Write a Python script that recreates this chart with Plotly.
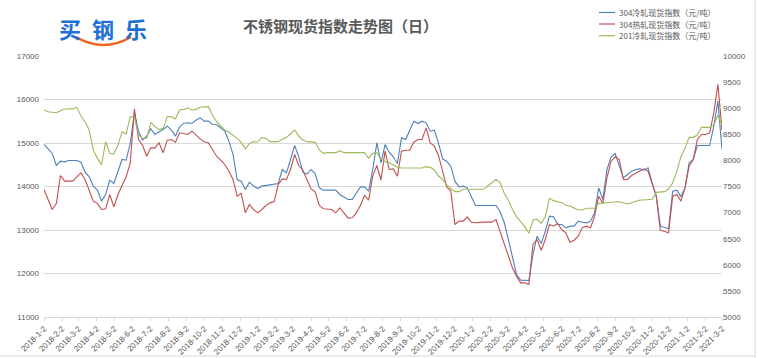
import plotly.graph_objects as go
import pandas as pd

# weekly sample dates (category grid)
dates = pd.date_range("2018-01-02", periods=166, freq="7D")

tick_text = [
    "2018-1-2", "2018-2-2", "2018-3-2", "2018-4-2", "2018-5-2", "2018-6-2", "2018-7-2", "2018-8-2",
    "2018-9-2", "2018-10-2", "2018-11-2", "2018-12-2",
    "2019-1-2", "2019-2-2", "2019-3-2", "2019-4-2", "2019-5-2", "2019-6-2", "2019-7-2", "2019-8-2",
    "2019-9-2", "2019-10-2", "2019-11-2", "2019-12-2",
    "2020-1-2", "2020-2-2", "2020-3-2", "2020-4-2", "2020-5-2", "2020-6-2", "2020-7-2", "2020-8-2",
    "2020-9-2", "2020-10-2", "2020-11-2", "2020-12-2",
    "2021-1-2", "2021-2-2", "2021-3-2",
]
tick_vals = pd.to_datetime(tick_text, format="%Y-%m-%d")

cold_304 = [
    14966, 14851, 14759, 14483, 14582, 14567, 14598, 14598, 14598, 14559, 14329, 14222, 14008, 13916, 13663, 13816,
    14146, 14069, 14352, 14621, 14605, 15004, 15693, 15272, 15065, 15157, 15326, 15195, 15257, 15310, 15387, 15295, 15157,
    15372, 15456, 15464, 15448, 15525, 15579, 15502, 15502, 15425, 15418, 15349, 15272, 15042, 14736, 14161, 14123,
    13931, 14100, 14008, 13954, 14008, 14023, 14054, 14069, 14069, 14391, 14314, 14621, 14943, 14682, 14329, 14284, 14391,
    14299, 13969, 13916, 13916, 13916, 13916, 13816, 13762, 13701, 13701, 13839, 13992, 13992, 13893, 14391, 15004,
    14544, 14965, 14789, 14682, 14529, 15119, 15080, 15295, 15502, 15448, 15502, 15464, 15272, 15295, 15004, 14636, 14582,
    14467, 14123, 13992, 14008, 13969, 13762, 13563, 13563, 13563, 13563, 13563, 13563, 13418, 13172, 12782, 12360,
    11977, 11847, 11839, 11839, 12437, 12858, 12690, 12973, 13318, 13303, 13126, 13126, 13050, 13088, 13088, 13203,
    13180, 13165, 13203, 13395, 13969, 13701, 14391, 14674, 14759, 14467, 14199, 14276, 14352, 14391, 14406, 14376,
    14429, 14084, 13778, 13088, 13050, 13027, 13893, 13916, 13762, 13969, 14544, 14621, 14942, 14942, 14942, 14942,
    15387, 15962, 14851,
]

hot_304 = [
    13931, 13701, 13471, 13609, 14253, 14123, 14123, 14123, 14222, 14314, 14161, 13931, 13663, 13609, 13471, 13487,
    13816, 13533, 13816, 14023, 14222, 14544, 15785, 15080, 14942, 14697, 14889, 14889, 15004, 14774, 15065, 15080, 15019,
    15234, 15218, 15195, 15272, 15172, 15096, 15027, 15004, 14851, 14697, 14605, 14506, 14352, 14161, 13778, 13839,
    13395, 13586, 13471, 13395, 13471, 13563, 13624, 13655, 14046, 14176, 14161, 14391, 14736, 14483, 14375, 14161, 13946,
    13870, 13563, 13487, 13471, 13471, 13395, 13510, 13395, 13272, 13280, 13395, 13563, 13793, 13686, 14238, 14483,
    14146, 14812, 14391, 14406, 14238, 14812, 14835, 14835, 15019, 15080, 15080, 15349, 15004, 14927, 14713, 14352, 13992,
    13900, 13126, 13203, 13203, 13303, 13180, 13165, 13180, 13180, 13180, 13180, 13241, 12973, 12705, 12437, 12130,
    11939, 11785, 11785, 11747, 12667, 12782, 12536, 12782, 13126, 13088, 13150, 13011, 12935, 12720, 12766, 12858,
    13050, 13088, 13050, 13318, 13778, 13609, 14199, 14582, 14682, 14621, 14161, 14161, 14253, 14299, 14345, 14406,
    14352, 14069, 13778, 12996, 12973, 12935, 13778, 13816, 13663, 13969, 14467, 14621, 15080, 15195, 15195, 15234,
    15693, 16350, 15300,
]

cold_201 = [
    8965, 8933, 8921, 8914, 8953, 8985, 8985, 8991, 9017, 8850, 8742, 8582, 8199, 8039, 7912, 8359,
    8135, 8122, 8295, 8550, 8506, 8838, 8825, 8486, 8423, 8423, 8723, 8646, 8595, 8614, 8838, 8838, 8793,
    8965, 8978, 9004, 8965, 8978, 9017, 9029, 9029, 8870, 8742, 8659, 8582, 8538, 8486, 8423, 8340,
    8218, 8327, 8359, 8352, 8435, 8423, 8359, 8359, 8359, 8404, 8442, 8506, 8582, 8467, 8391, 8359, 8346,
    8346, 8199, 8135, 8148, 8148, 8148, 8186, 8148, 8148, 8148, 8148, 8148, 8148, 8039, 8135, 8148,
    8027, 7976, 7957, 7912, 7867, 7854, 7854, 7854, 7854, 7854, 7854, 7880, 7867, 7816, 7701, 7637, 7529,
    7465, 7401, 7401, 7446, 7446, 7446, 7446, 7446, 7446, 7509, 7573, 7637, 7573, 7369, 7241, 7062,
    6922, 6826, 6730, 6603, 6858, 6871, 6794, 6922, 7273, 7229, 7209, 7190, 7139, 7126, 7088, 7050,
    7050, 7082, 7082, 7082, 7177, 7177, 7190, 7197, 7209, 7209, 7190, 7165, 7190, 7209, 7241, 7241,
    7241, 7254, 7388, 7394, 7401, 7452, 7573, 7784, 8071, 8231, 8442, 8442, 8486, 8633, 8633, 8633,
    8678, 8870, 8678,
]

names = ["304冷轧现货指数（元/吨）", "304热轧现货指数（元/吨）", "201冷轧现货指数（元/吨）"]
colors = ["#4F81BD", "#C0504D", "#9BBB59"]

CJK = "Noto Sans CJK SC"
LAT = "Liberation Sans, Noto Sans CJK SC"
GREY = "#595959"

fig = go.Figure()
fig.add_trace(go.Scatter(x=dates, y=cold_304, mode="lines", name=names[0],
                         line=dict(color=colors[0], width=1.1)))
fig.add_trace(go.Scatter(x=dates, y=hot_304, mode="lines", name=names[1],
                         line=dict(color=colors[1], width=1.1)))
fig.add_trace(go.Scatter(x=dates, y=cold_201, mode="lines", name=names[2], yaxis="y2",
                         line=dict(color=colors[2], width=1.1)))

fig.update_layout(
    width=758, height=358,
    margin=dict(l=44, r=36, t=56, b=41),
    paper_bgcolor="white", plot_bgcolor="white",
    showlegend=False,
    xaxis=dict(
        type="date", range=["2018-01-02", "2021-03-02"], automargin=False,
        tickmode="array", tickvals=tick_vals, ticktext=tick_text,
        tickangle=-45, tickfont=dict(size=8, color=GREY, family=LAT),
        showgrid=False, zeroline=False,
        showline=True, linecolor="#D9D9D9", linewidth=1,
        ticks="outside", ticklen=3, tickcolor="#D9D9D9",
    ),
    yaxis=dict(
        range=[11000, 17000], dtick=1000, tickformat="d", automargin=False,
        tickfont=dict(size=8, color=GREY, family=LAT),
        showgrid=True, gridcolor="#D9D9D9", gridwidth=1,
        zeroline=False, showline=False, ticks="",
        ticklabelstandoff=4,
    ),
    yaxis2=dict(
        range=[5000, 10000], dtick=500, tickformat="d", automargin=False,
        overlaying="y", side="right",
        tickfont=dict(size=8, color=GREY, family=LAT),
        showgrid=False, zeroline=False, showline=False, ticks="",
    ),
)

def px_x(p):
    return (p - 44) / 678.0

def px_y(p):
    return (317 - p) / 261.0

annotations = []
shapes = []

# title
annotations.append(dict(
    text="<b>不锈钢现货指数走势图（日）</b>", x=px_x(340), y=px_y(26),
    xref="paper", yref="paper", showarrow=False, xanchor="center", yanchor="middle",
    font=dict(family=CJK, size=15, color=GREY),
))

# logo
annotations.append(dict(
    text="<b>买\u2002钢\u2002乐</b>", x=px_x(103), y=px_y(28),
    xref="paper", yref="paper", showarrow=False, xanchor="center", yanchor="middle",
    font=dict(family=CJK, size=22, color="#1F6FD8"),
))
shapes.append(dict(
    type="path", xref="paper", yref="paper",
    path=f"M {px_x(76)},{px_y(37)} Q {px_x(103.5)},{px_y(53)} {px_x(131)},{px_y(37)}",
    line=dict(color="#F0641E", width=2.5),
))

# legend (drawn manually)
leg_y = [12.5, 24, 35.7]
for name, col, yy in zip(names, colors, leg_y):
    shapes.append(dict(type="line", xref="paper", yref="paper",
                       x0=px_x(599), x1=px_x(615), y0=px_y(yy), y1=px_y(yy),
                       line=dict(color=col, width=1.2)))
    annotations.append(dict(
        text=name, x=px_x(617), y=px_y(yy), xref="paper", yref="paper",
        showarrow=False, xanchor="left", yanchor="middle",
        font=dict(family=CJK, size=8, color=GREY),
    ))

# outer frame lines
shapes.append(dict(type="line", xref="paper", yref="paper",
                   x0=px_x(755), x1=px_x(755), y0=px_y(0), y1=px_y(358),
                   line=dict(color="#D9D9D9", width=1)))
shapes.append(dict(type="line", xref="paper", yref="paper",
                   x0=px_x(0), x1=px_x(755), y0=px_y(356), y1=px_y(356),
                   line=dict(color="#D9D9D9", width=1)))

fig.update_layout(annotations=annotations, shapes=shapes)

fig.write_html(
    "out.html",
    config={"displayModeBar": False},
    post_script="document.body.style.margin='0';document.body.style.overflow='hidden';",
)
